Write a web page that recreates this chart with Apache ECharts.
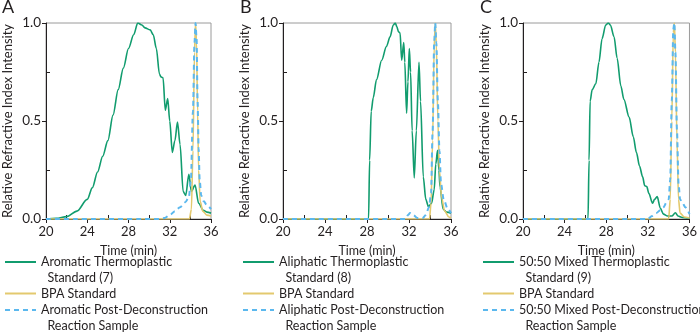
<!DOCTYPE html>
<html>
<head>
<meta charset="utf-8">
<script src="https://cdn.jsdelivr.net/npm/echarts@6/dist/echarts.min.js"></script>
<style>
  html, body { margin: 0; padding: 0; background: #fff; }
  #main { width: 700px; height: 334px; }
</style>
</head>
<body>
<div id="main"></div>
<script>
var xTicks = [20, 24, 28, 32, 36]
var yTicks = [0.0, 0.5, 1.0]

// panel A  (time in min, relative RI intensity)
var aromaticStd = [[20,0],[21,0.003],[22,0.012],[23,0.04],[24,0.1],[24.5,0.16],[25,0.24],[25.5,0.32],[26,0.4],[26.5,0.53],[27,0.66],[27.5,0.77],[28,0.87],[28.5,0.94],[28.9,1.0],[29.3,0.99],[29.6,0.975],[30.1,0.965],[30.4,0.94],[30.7,0.87],[31.0,0.74],[31.15,0.725],[31.35,0.72],[31.57,0.555],[31.8,0.615],[32.0,0.5],[32.25,0.34],[32.5,0.4],[32.75,0.495],[33.0,0.38],[33.3,0.14],[33.55,0.12],[33.85,0.228],[34.1,0.14],[34.45,0.173],[34.8,0.08],[35.25,0.045],[35.6,0.035],[36,0.03]]
var bpaA = [[20,0],[33.9,0],[34.1,0.05],[34.25,0.35],[34.4,0.85],[34.5,1.0],[34.6,0.9],[34.7,0.55],[34.8,0.25],[34.95,0.09],[35.2,0.04],[35.6,0.02],[36,0.015]]
var aromaticPost = [[20,0],[31,0],[31.5,0.005],[32,0.02],[32.5,0.04],[33,0.06],[33.5,0.085],[33.85,0.11],[34.05,0.2],[34.25,0.55],[34.4,0.9],[34.5,1.0],[34.6,0.92],[34.7,0.6],[34.8,0.36],[34.9,0.2],[35.05,0.12],[35.3,0.09],[35.6,0.07],[36,0.05]]

// panel B
var aliphaticStd = [[20,0],[28.15,0],[28.25,0.3],[28.4,0.55],[28.6,0.62],[28.9,0.71],[29.4,0.81],[29.85,0.88],[30.2,0.93],[30.5,0.99],[30.7,1.0],[30.85,0.98],[31.0,0.955],[31.15,0.95],[31.3,0.81],[31.5,0.9],[31.6,0.8],[31.77,0.54],[31.9,0.7],[32.03,0.87],[32.15,0.75],[32.3,0.45],[32.5,0.21],[32.7,0.45],[32.95,0.8],[33.1,0.6],[33.36,0.215],[33.6,0.1],[33.85,0.063],[34.15,0.08],[34.4,0.15],[34.55,0.28],[34.72,0.35],[34.85,0.25],[34.95,0.165],[35.25,0.05],[35.6,0.035],[36,0.03]]
var bpaB = [[20,0],[33.95,0],[34.1,0.08],[34.25,0.4],[34.4,0.88],[34.5,1.0],[34.6,0.9],[34.75,0.5],[34.9,0.25],[35.1,0.11],[35.4,0.04],[35.8,0.01],[36,0.005]]
var aliphaticPost = [[20,0],[31.7,0],[31.9,0.02],[32.1,0.03],[32.4,0.02],[32.8,0.005],[33.3,0.005],[33.6,0.02],[33.9,0.06],[34.1,0.13],[34.25,0.45],[34.4,0.9],[34.5,1.0],[34.6,0.9],[34.75,0.6],[34.9,0.35],[35.05,0.18],[35.3,0.1],[35.7,0.05],[36,0.03]]

// panel C
var mixedStd = [[20,0],[26.25,0],[26.35,0.3],[26.45,0.6],[26.65,0.66],[27.0,0.69],[27.3,0.8],[27.6,0.92],[27.95,0.99],[28.2,1.0],[28.4,0.99],[28.75,0.93],[29.05,0.82],[29.4,0.68],[29.7,0.61],[30.2,0.52],[30.6,0.42],[30.9,0.34],[31.2,0.27],[31.5,0.215],[31.7,0.17],[31.9,0.165],[32.1,0.13],[32.45,0.08],[32.65,0.1],[32.9,0.114],[33.2,0.055],[33.5,0.025],[33.9,0.015],[34.3,0.015],[34.65,0.032],[34.9,0.015],[35.3,0.008],[36,0.004]]
var bpaC = [[20,0],[34.0,0],[34.15,0.1],[34.3,0.5],[34.45,0.95],[34.55,1.0],[34.65,0.85],[34.8,0.4],[34.95,0.1],[35.1,0.03],[35.5,0.01],[36,0.005]]
var mixedPost = [[20,0],[32.0,0],[32.4,0.015],[32.8,0.03],[33.2,0.045],[33.5,0.06],[33.8,0.085],[34.0,0.1],[34.15,0.2],[34.3,0.6],[34.45,0.97],[34.55,1.0],[34.65,0.85],[34.8,0.45],[34.95,0.18],[35.1,0.1],[35.35,0.08],[35.6,0.06],[36,0.025]]

var panels = [
    { letter: 'A', left: 45, width: 166, std: aromaticStd, bpa: bpaA, post: aromaticPost,
      stdName: 'Aromatic Thermoplastic\n  Standard (7)', postName: 'Aromatic Post-Deconstruction\n  Reaction Sample' },
    { letter: 'B', left: 283, width: 168, std: aliphaticStd, bpa: bpaB, post: aliphaticPost,
      stdName: 'Aliphatic Thermoplastic\n  Standard (8)', postName: 'Aliphatic Post-Deconstruction\n  Reaction Sample' },
    { letter: 'C', left: 523, width: 167, std: mixedStd, bpa: bpaC, post: mixedPost,
      stdName: '50:50 Mixed Thermoplastic\n  Standard (9)', postName: '50:50 Mixed Post-Deconstruction\n  Reaction Sample' }
]

var green = '#119c6e'
var yellow = '#e3c96e'
var blue = '#5bb8ee'
var ink = '#231f20'
var font = 'Lato'

var option = {
    animation: false,
    textStyle: { fontFamily: font, color: ink },
    title: [], grid: [], xAxis: [], yAxis: [], legend: [], series: []
}

function addLegend(p, name, label, top) {
    option.legend.push({
        orient: 'vertical',
        left: p.left - 41,
        top: top,
        padding: 0,
        itemWidth: 31,
        itemHeight: 14,
        itemStyle: { opacity: 0 },
        data: [{ name: name }],
        formatter: function () { return label },
        textStyle: { fontFamily: font, fontSize: 12.5, color: ink, lineHeight: 16 }
    })
}

panels.forEach(function (p, i) {
    option.title.push({
        text: p.letter, left: p.left - 43, top: -2, padding: 0,
        textStyle: { fontFamily: font, fontSize: 18, fontWeight: 'normal', color: ink }
    })
    option.grid.push({
        left: p.left, top: 23, width: p.width, height: 196,
        show: true, borderColor: '#9a9a9a', borderWidth: 1, backgroundColor: 'transparent'
    })
    option.xAxis.push({
        type: 'value', gridIndex: i, min: 20, max: 36, interval: 4,
        name: 'Time (min)', nameLocation: 'middle', nameGap: 25,
        nameTextStyle: { fontFamily: font, fontSize: 12.5, color: ink },
        axisLine: { onZero: false, lineStyle: { color: ink, width: 1 } },
        axisTick: { show: true, length: 4, lineStyle: { color: ink } },
        minorTick: { show: true, splitNumber: 2, length: -4, lineStyle: { color: ink } },
        axisLabel: { margin: 6, fontFamily: font, fontSize: 13, color: ink,
            formatter: function (v) { return xTicks.indexOf(v) >= 0 ? String(v) : '' } },
        splitLine: { show: false }
    })
    option.yAxis.push({
        type: 'value', gridIndex: i, min: 0, max: 1, interval: 0.5,
        name: 'Relative Refractive Index Intensity', nameLocation: 'middle', nameGap: 32,
        nameTextStyle: { fontFamily: font, fontSize: 13, color: ink },
        axisLine: { lineStyle: { color: ink, width: 1 } },
        axisTick: { show: true, length: 4, lineStyle: { color: ink } },
        minorTick: { show: true, splitNumber: 2, length: -4, lineStyle: { color: ink } },
        axisLabel: { margin: 5, fontFamily: font, fontSize: 13.5, color: ink,
            formatter: function (v) { return yTicks.indexOf(v) >= 0 ? v.toFixed(1) : '' } },
        splitLine: { show: false }
    })

    var stdKey = p.letter + '-std', bpaKey = p.letter + '-bpa', postKey = p.letter + '-post'
    option.series.push({
        name: stdKey, type: 'line', xAxisIndex: i, yAxisIndex: i, data: p.std,
        showSymbol: false, symbol: 'none', smooth: 0.3, smoothMonotone: 'x',
        lineStyle: { color: green, width: 1.6 }, itemStyle: { color: green }
    })
    option.series.push({
        name: bpaKey, type: 'line', xAxisIndex: i, yAxisIndex: i, data: p.bpa,
        showSymbol: false, symbol: 'none', smooth: 0.3, smoothMonotone: 'x',
        lineStyle: { color: yellow, width: 1.6 }, itemStyle: { color: yellow }
    })
    option.series.push({
        name: postKey, type: 'line', xAxisIndex: i, yAxisIndex: i, data: p.post,
        showSymbol: false, symbol: 'none', smooth: 0.3, smoothMonotone: 'x',
        lineStyle: { color: blue, width: 2, type: [5, 4] }, itemStyle: { color: blue }
    })

    addLegend(p, stdKey, '\n' + p.stdName, 238)
    addLegend(p, bpaKey, 'BPA Standard', 285.5)
    addLegend(p, postKey, '\n' + p.postName, 286)
})

var myChart = echarts.init(document.getElementById('main'), null, { renderer: 'canvas' })
myChart.setOption(option)
</script>
</body>
</html>
